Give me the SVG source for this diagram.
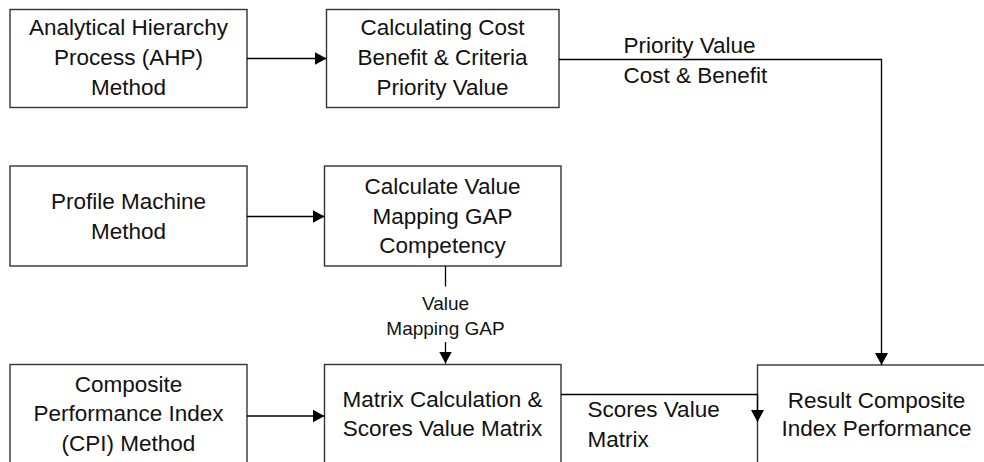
<svg xmlns="http://www.w3.org/2000/svg" width="984" height="462" viewBox="0 0 984 462">
<defs>
<marker id="arr" viewBox="0 0 12 13" refX="12" refY="6.5" markerWidth="12" markerHeight="13" markerUnits="userSpaceOnUse" orient="auto">
<path d="M0,0 L12,6.5 L0,13 Z" fill="#000"/>
</marker>
<style>
.box{fill:#fff;stroke:#333;stroke-width:1.4}
.t{font-family:"Liberation Sans",Arial,sans-serif;font-size:22.5px;fill:#111;text-anchor:middle}
.l{font-family:"Liberation Sans",Arial,sans-serif;font-size:22.5px;fill:#111}
.s{font-family:"Liberation Sans",Arial,sans-serif;font-size:19px;fill:#111;text-anchor:middle}
.c{fill:none;stroke:#000;stroke-width:1.3}
</style>
</defs>
<rect width="984" height="462" fill="#fff"/>
<g id="n1">
<rect class="box" x="10" y="9.5" width="237" height="98"/>
<text class="t" x="128.5" y="35">Analytical Hierarchy</text>
<text class="t" x="128.5" y="65">Process (AHP)</text>
<text class="t" x="128.5" y="95">Method</text>
</g>
<g id="n2">
<rect class="box" x="326.5" y="9.5" width="232.5" height="98"/>
<text class="t" x="442.5" y="35">Calculating Cost</text>
<text class="t" x="442.5" y="65">Benefit &amp; Criteria</text>
<text class="t" x="442.5" y="95">Priority Value</text>
</g>
<g id="n3">
<rect class="box" x="10" y="166" width="237" height="100"/>
<text class="t" x="128.5" y="209">Profile Machine</text>
<text class="t" x="128.5" y="239">Method</text>
</g>
<g id="n4">
<rect class="box" x="324.5" y="166" width="236.5" height="100"/>
<text class="t" x="442.5" y="194">Calculate Value</text>
<text class="t" x="442.5" y="224">Mapping GAP</text>
<text class="t" x="442.5" y="253">Competency</text>
</g>
<g id="n5">
<rect class="box" x="10" y="364.5" width="237" height="110"/>
<text class="t" x="128.5" y="391.5">Composite</text>
<text class="t" x="128.5" y="420.5">Performance Index</text>
<text class="t" x="128.5" y="450.5">(CPI) Method</text>
</g>
<g id="n6">
<rect class="box" x="324.5" y="364.5" width="236.5" height="110"/>
<text class="t" x="442.5" y="407">Matrix Calculation &amp;</text>
<text class="t" x="442.5" y="436">Scores Value Matrix</text>
</g>
<g id="n7">
<rect class="box" x="757.5" y="365" width="240" height="110"/>
<text class="t" x="876.5" y="408">Result Composite</text>
<text class="t" x="876.5" y="436">Index Performance</text>
</g>
<g id="connectors">
<line class="c" x1="247" y1="58.5" x2="326.5" y2="58.5" marker-end="url(#arr)"/>
<line class="c" x1="247" y1="216.5" x2="324.5" y2="216.5" marker-end="url(#arr)"/>
<line class="c" x1="247" y1="416" x2="324.5" y2="416" marker-end="url(#arr)"/>
<polyline class="c" points="559,59.5 881.5,59.5 881.5,365" marker-end="url(#arr)"/>
<line class="c" x1="445.5" y1="266" x2="445.5" y2="286.5"/>
<line class="c" x1="445.5" y1="342" x2="445.5" y2="363.5" marker-end="url(#arr)"/>
<polyline class="c" points="561,394.5 757.5,394.5 757.5,422" marker-end="url(#arr)"/>
<text class="l" x="623.5" y="53">Priority Value</text>
<text class="l" x="623.5" y="83">Cost &amp; Benefit</text>
<text class="s" x="445.5" y="310">Value</text>
<text class="s" x="445.5" y="335">Mapping GAP</text>
<text class="l" x="587.5" y="416.5">Scores Value</text>
<text class="l" x="587.5" y="446.5">Matrix</text>
</g>
</svg>
